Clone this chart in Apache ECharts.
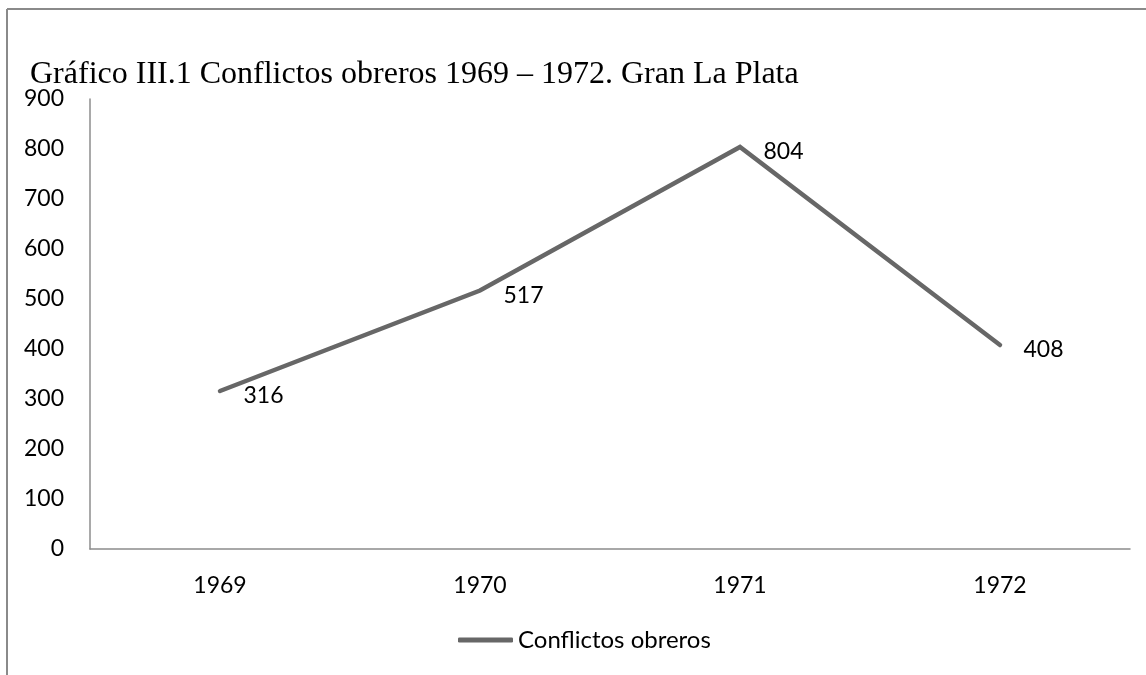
<!DOCTYPE html>
<html>
<head>
<meta charset="utf-8">
<script src="https://cdn.jsdelivr.net/npm/echarts@6/dist/echarts.min.js"></script>
<style>
html,body{margin:0;padding:0;background:#fff;}
#chart{width:1146px;height:675px;}
</style>
</head>
<body>
<div id="chart"></div>
<script>
const titleText = 'Gráfico III.1 Conflictos obreros 1969 – 1972. Gran La Plata';
const categories = ['1969', '1970', '1971', '1972'];
const seriesName = 'Conflictos obreros';
const values = [316, 517, 804, 408];
const yTicks = { min: 0, max: 900, interval: 100 };

const chart = echarts.init(document.getElementById('chart'));
chart.setOption({
  backgroundColor: '#ffffff',
  animation: false,
  graphic: [
    { type: 'line', shape: { x1: 7, y1: 9, x2: 1146, y2: 9 }, style: { stroke: '#8a8a8a', lineWidth: 2 } },
    { type: 'line', shape: { x1: 7, y1: 9, x2: 7, y2: 675 }, style: { stroke: '#8a8a8a', lineWidth: 2 } }
  ],
  title: {
    text: titleText,
    left: 30,
    top: 59,
    padding: 0,
    textStyle: { fontFamily: 'Liberation Serif', fontSize: 32, fontWeight: 'normal', color: '#000' }
  },
  legend: {
    data: [{ name: seriesName, icon: 'roundRect', itemStyle: { color: '#676767', opacity: 1 } }],
    left: 458,
    top: 628,
    padding: 0,
    itemWidth: 55,
    itemHeight: 5,
    itemGap: 0,
    itemStyle: { color: '#676767', opacity: 1 },
    textStyle: { fontFamily: 'Lato', fontSize: 24, color: '#000' }
  },
  grid: { left: 90, right: 16, top: 99, bottom: 126, containLabel: false },
  xAxis: {
    type: 'category',
    data: categories,
    boundaryGap: true,
    axisLine: { show: true, lineStyle: { color: '#8c8c8c', width: 1.5 } },
    axisTick: { show: false },
    axisLabel: { margin: 25, fontFamily: 'Lato', fontSize: 23, color: '#000' },
    splitLine: { show: false }
  },
  yAxis: {
    type: 'value',
    min: yTicks.min,
    max: yTicks.max,
    interval: yTicks.interval,
    axisLine: { show: true, lineStyle: { color: '#8c8c8c', width: 1.5 } },
    axisTick: { show: false },
    axisLabel: { margin: 26, fontFamily: 'Lato', fontSize: 23, color: '#000' },
    splitLine: { show: false }
  },
  series: [{
    name: seriesName,
    type: 'line',
    data: values,
    symbol: 'circle',
    symbolSize: 1,
    showSymbol: true,
    itemStyle: { color: '#676767', opacity: 0 },
    color: '#676767',
    lineStyle: { color: '#676767', width: 4.5, cap: 'round', join: 'miter' },
    label: {
      show: true,
      position: 'right',
      distance: 23,
      fontFamily: 'Lato',
      fontSize: 23,
      color: '#000',
      opacity: 1
    },
    labelLayout: { hideOverlap: false, dy: 5 }
  }]
});
</script>
</body>
</html>
